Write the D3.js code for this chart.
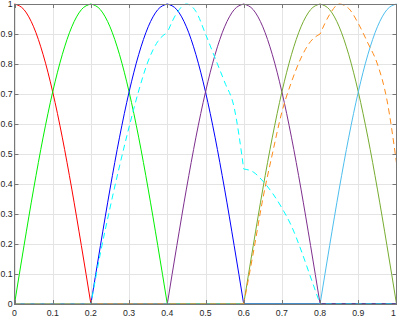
<!DOCTYPE html>
<html><head><meta charset="utf-8">
<script src="https://cdn.jsdelivr.net/npm/d3@7"></script>
<style>html,body{margin:0;padding:0;background:#fff;}svg{display:block;}</style>
</head><body>
<svg id="c" width="397" height="317"></svg>
<script>
// x sample positions (step 0.025)
const xs = [0,0.025,0.05,0.075,0.1,0.125,0.15,0.175,0.2,0.225,0.25,0.275,0.3,0.325,0.35,0.375,0.4,0.425,0.45,0.475,0.5,0.525,0.55,0.575,0.6,0.625,0.65,0.675,0.7,0.725,0.75,0.775,0.8,0.825,0.85,0.875,0.9,0.925,0.95,0.975,1];
const knots = [0.2,0.4,0.6,0.8];
const xTicks = [0,0.1,0.2,0.3,0.4,0.5,0.6,0.7,0.8,0.9,1];
const xTickLabels = ["0","0.1","0.2","0.3","0.4","0.5","0.6","0.7","0.8","0.9","1"];
const yTicks = [0,0.1,0.2,0.3,0.4,0.5,0.6,0.7,0.8,0.9,1];
const yTickLabels = ["0","0.1","0.2","0.3","0.4","0.5","0.6","0.7","0.8","0.9","1"];

const redVals    = [1,.981,.924,.831,.707,.556,.383,.195,0, 0,0,0,0,0,0,0,0, 0,0,0,0,0,0,0,0, 0,0,0,0,0,0,0,0, 0,0,0,0,0,0,0,0];
const greenVals  = [0,.195,.383,.556,.707,.831,.924,.981,1, .981,.924,.831,.707,.556,.383,.195,0, 0,0,0,0,0,0,0,0, 0,0,0,0,0,0,0,0, 0,0,0,0,0,0,0,0];
const blueVals   = [0,0,0,0,0,0,0,0,0, .195,.383,.556,.707,.831,.924,.981,1, .981,.924,.831,.707,.556,.383,.195,0, 0,0,0,0,0,0,0,0, 0,0,0,0,0,0,0,0];
const purpleVals = [0,0,0,0,0,0,0,0,0, 0,0,0,0,0,0,0,0, .195,.383,.556,.707,.831,.924,.981,1, .981,.924,.831,.707,.556,.383,.195,0, 0,0,0,0,0,0,0,0];
const oliveVals  = [0,0,0,0,0,0,0,0,0, 0,0,0,0,0,0,0,0, 0,0,0,0,0,0,0,0, .195,.383,.556,.707,.831,.924,.981,1, .981,.924,.831,.707,.556,.383,.195,0];
const skyVals    = [0,0,0,0,0,0,0,0,0, 0,0,0,0,0,0,0,0, 0,0,0,0,0,0,0,0, 0,0,0,0,0,0,0,0, .195,.383,.556,.707,.831,.924,.981,1];
const cyanVals   = [0,0,0,0,0,0,0,0,0, .17,.32,.46,.59,.71,.81,.875,.905, .97,1,.975,.9,.82,.74,.655,.45, .44,.41,.37,.32,.26,.18,.09,0, 0,0,0,0,0,0,0,0];
const orangeVals = [0,0,0,0,0,0,0,0,0, 0,0,0,0,0,0,0,0, 0,0,0,0,0,0,0,0, .17,.35,.5,.64,.74,.82,.875,.9, .965,1,.985,.935,.87,.8,.68,.47];

const series = [
  {vals: redVals,    color: "#ff0000", dash: null},
  {vals: greenVals,  color: "#00f000", dash: null},
  {vals: blueVals,   color: "#0000ff", dash: null},
  {vals: purpleVals, color: "#7e2f8e", dash: null},
  {vals: oliveVals,  color: "#77ac30", dash: null},
  {vals: skyVals,    color: "#4dbeee", dash: null},
  {vals: cyanVals,   color: "#00ffff", dash: "6,4"},
  {vals: orangeVals, color: "#ff8c1a", dash: "6,4"}
];

const L = 14.5, R = 396.5, T = 4, B = 304;
const x = d3.scaleLinear().domain([0,1]).range([L,R]);
const y = d3.scaleLinear().domain([0,1]).range([B,T]);
const svg = d3.select("#c");

// grid
const g = svg.append("g");
g.selectAll("line.gx").data(xTicks).enter().append("line")
  .attr("x1", d=>Math.round(x(d))+0.5).attr("x2", d=>Math.round(x(d))+0.5)
  .attr("y1", T).attr("y2", B).attr("stroke", "#e4e4e4").attr("stroke-width", 1);
g.selectAll("line.gy").data(yTicks).enter().append("line")
  .attr("y1", d=>Math.round(y(d))+0.5).attr("y2", d=>Math.round(y(d))+0.5)
  .attr("x1", L).attr("x2", R).attr("stroke", "#e4e4e4").attr("stroke-width", 1);

// curves, drawn piecewise between knots
const line = d3.line().x(d=>x(d[0])).y(d=>y(d[1])).curve(d3.curveMonotoneX);
series.forEach(s => {
  const pts = xs.map((xv,i)=>[xv, s.vals[i]]);
  const bounds = [0, ...knots, 1];
  for (let k = 0; k < bounds.length-1; k++) {
    const seg = pts.filter(p => p[0] >= bounds[k]-1e-9 && p[0] <= bounds[k+1]+1e-9);
    svg.append("path").attr("d", line(seg)).attr("fill","none")
      .attr("stroke", s.color).attr("stroke-width", 1)
      .attr("stroke-dasharray", s.dash)
      .attr("stroke-dashoffset", s.dash ? -(x(bounds[k])-L) : null);
  }
});

// box and ticks
const ax = svg.append("g").attr("stroke", "#777").attr("stroke-width", 1).attr("fill","none");
ax.append("rect").attr("x", L).attr("y", T).attr("width", R-L).attr("height", B-T).attr("shape-rendering","crispEdges");
xTicks.forEach(t => {
  const px = Math.round(x(t))+0.5;
  ax.append("line").attr("x1",px).attr("x2",px).attr("y1",B).attr("y2",B-4);
  ax.append("line").attr("x1",px).attr("x2",px).attr("y1",T).attr("y2",T+4);
});
yTicks.forEach(t => {
  const py = Math.round(y(t))+0.5;
  ax.append("line").attr("y1",py).attr("y2",py).attr("x1",L).attr("x2",L+4);
  ax.append("line").attr("y1",py).attr("y2",py).attr("x1",R).attr("x2",R-4);
});

// labels
const font = "'Liberation Sans', Arial, Helvetica, sans-serif";
svg.selectAll("text.xl").data(xTicks).enter().append("text")
  .attr("x", d=>Math.min(x(d), 393.5)).attr("y", 315.5).attr("text-anchor","middle")
  .attr("font-family", font).attr("font-size", 8.7).attr("fill","#262626")
  .text((d,i)=>xTickLabels[i]);
svg.selectAll("text.yl").data(yTicks).enter().append("text")
  .attr("x", 12.5).attr("y", d=>Math.min(y(d)+3, 307)).attr("text-anchor","end")
  .attr("font-family", font).attr("font-size", 8.7).attr("fill","#262626")
  .text((d,i)=>yTickLabels[i]);
</script>
</body></html>
